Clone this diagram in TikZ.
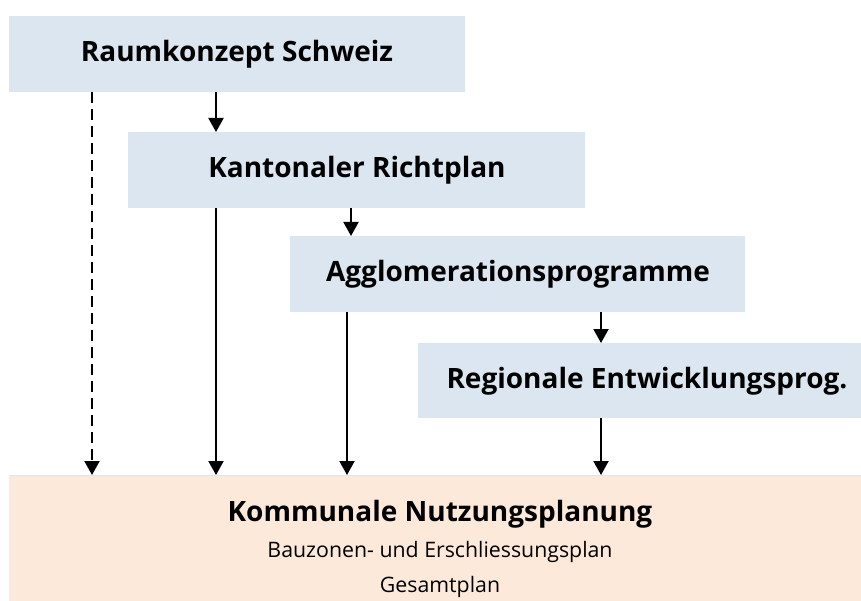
\documentclass[tikz,border=0pt]{standalone}
\usepackage{fontspec}
\setmainfont{Open Sans}
\usetikzlibrary{arrows.meta}
\definecolor{boxblue}{HTML}{DCE6F1}
\definecolor{boxpeach}{HTML}{FDE9D9}
\begin{document}
\begin{tikzpicture}[x=1pt,y=-1pt,
  lvl/.style={fill=boxblue, draw=none},
  ttl/.style={font=\fontsize{28}{33}\selectfont\bfseries, inner sep=0pt},
  sub/.style={font=\fontsize{21.3}{25}\selectfont, inner sep=0pt},
  arr/.style={-{Triangle[length=14pt,width=15pt]}, line width=2pt},
  darr/.style={arr, dash pattern=on 11pt off 6pt}]
\useasboundingbox (0,0) rectangle (861,601);
\fill[boxpeach] (9,475) rectangle (861,601);
\draw[boxblue, line width=1pt] (9,475.5) -- (861,475.5);
\fill[lvl] (9,16) rectangle (465,92);
\fill[lvl] (128,132) rectangle (585,208);
\fill[lvl] (290,236) rectangle (745,312);
\fill[lvl] (418,343) rectangle (861,418);
\node[ttl] (t1) at (237,54) {Raumkonzept Schweiz};
\node[ttl] (t2) at (357,170) {Kantonaler Richtplan};
\node[ttl] (t3) at (518,274) {Agglomerationsprogramme};
\node[ttl] (t4) at (647,381) {Regionale Entwicklungsprog.};
\node[ttl] (t5) at (440,514) {Kommunale Nutzungsplanung};
\node[sub] (s1) at (440,552) {Bauzonen- und Erschliessungsplan};
\node[sub] (s2) at (440,587) {Gesamtplan};
\coordinate (a1) at (92,92); \coordinate (a1e) at (92,475);
\coordinate (b1) at (216,92); \coordinate (b1e) at (216,132);
\coordinate (b2) at (216,208); \coordinate (b2e) at (216,475);
\coordinate (c1) at (351,208); \coordinate (c1e) at (351,236);
\coordinate (c2) at (347,312); \coordinate (c2e) at (347,475);
\coordinate (d1) at (601,312); \coordinate (d1e) at (601,343);
\coordinate (d2) at (601,418); \coordinate (d2e) at (601,475);
\draw[darr] (a1) -- (a1e);
\draw[arr] (b1) -- (b1e);
\draw[arr] (b2) -- (b2e);
\draw[arr] (c1) -- (c1e);
\draw[arr] (c2) -- (c2e);
\draw[arr] (d1) -- (d1e);
\draw[arr] (d2) -- (d2e);
\end{tikzpicture}
\end{document}
